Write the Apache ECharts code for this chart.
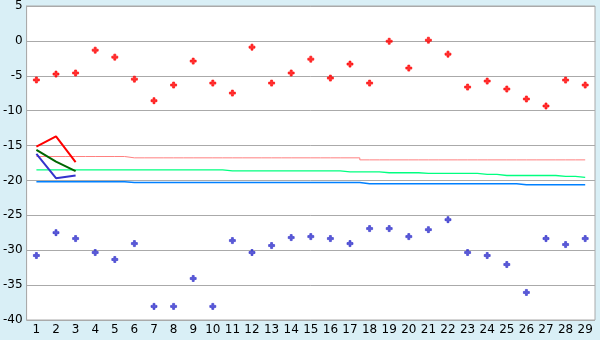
<!DOCTYPE html>
<html>
<head>
<meta charset="utf-8">
<script src="https://cdn.jsdelivr.net/npm/echarts@6/dist/echarts.min.js"></script>
<style>
html,body{margin:0;padding:0;background:#d9eff6;}
#c{width:600px;height:340px;}
</style>
</head>
<body>
<div id="c"></div>
<script>
var categories = ['1','2','3','4','5','6','7','8','9','10','11','12','13','14','15','16','17','18','19','20','21','22','23','24','25','26','27','28','29'];
var yTicks = {min: -40, max: 5, interval: 5};

var redPoints = [-5.6,-4.76,-4.6,-1.33,-2.33,-5.48,-8.57,-6.33,-2.9,-6.05,-7.48,-0.9,-6.05,-4.6,-2.62,-5.33,-3.33,-6.05,-0.05,-3.9,0.1,-1.9,-6.62,-5.76,-6.9,-8.33,-9.33,-5.62,-6.33];
var bluePoints = [-30.76,-27.48,-28.33,-30.33,-31.33,-29.05,-38.05,-38.05,-34.05,-38.05,-28.62,-30.33,-29.33,-28.19,-28.05,-28.33,-29.05,-26.9,-26.9,-28.05,-27.05,-25.62,-30.33,-30.76,-32.05,-36.05,-28.33,-29.19,-28.33];

var redLine = [-15.14,-13.67,-17.38];
var greenLine = [-15.62,-17.3,-18.67];
var blueLine = [-16.19,-19.67,-19.29];

var pinkStep = [-16.57,-16.57,-16.57,-16.57,-16.57,-16.76,-16.76,-16.76,-16.76,-16.76,-16.76,-16.76,-16.76,-16.76,-16.76,-16.76,-16.76,-17.05,-17.05,-17.05,-17.05,-17.05,-17.05,-17.05,-17.05,-17.05,-17.05,-17.05,-17.05];
var greenStep = [-18.48,-18.48,-18.48,-18.48,-18.48,-18.48,-18.48,-18.48,-18.48,-18.48,-18.62,-18.62,-18.62,-18.62,-18.62,-18.62,-18.76,-18.76,-18.9,-18.9,-19.0,-19.0,-19.0,-19.14,-19.29,-19.29,-19.29,-19.43,-19.57];
var blueStep = [-20.17,-20.17,-20.17,-20.17,-20.17,-20.3,-20.3,-20.3,-20.3,-20.3,-20.3,-20.3,-20.3,-20.3,-20.3,-20.3,-20.3,-20.47,-20.47,-20.47,-20.47,-20.47,-20.47,-20.47,-20.47,-20.62,-20.62,-20.62,-20.62];

var plus = 'path://M2,0H4V2H6V4H4V6H2V4H0V2H2Z';
var font = 'DejaVu Sans';

var chart = echarts.init(document.getElementById('c'), null, {renderer: 'canvas'});
chart.setOption({
  animation: false,
  backgroundColor: '#d9eff6',
  grid: {left: 26, right: 5, top: 5, bottom: 20, show: true, backgroundColor: '#ffffff', borderColor: '#aaaaaa', borderWidth: 1},
  xAxis: {
    type: 'category', data: categories, boundaryGap: true,
    axisLine: {lineStyle: {color: '#aaaaaa', width: 1}},
    axisTick: {alignWithLabel: true, length: 5, lineStyle: {color: '#000000'}},
    axisLabel: {color: '#000', fontFamily: font, fontSize: 12, margin: 4, interval: 0},
    splitLine: {show: false}
  },
  yAxis: {
    type: 'value', min: yTicks.min, max: yTicks.max, interval: yTicks.interval,
    axisLine: {show: true, lineStyle: {color: '#aaaaaa'}},
    axisTick: {show: false},
    axisLabel: {color: '#000', fontFamily: font, fontSize: 12, margin: 4},
    splitLine: {lineStyle: {color: '#aaaaaa', width: 1}}
  },
  series: [
    {type: 'line', data: pinkStep, step: 'middle', symbol: 'none', lineStyle: {color: '#ff8080', width: 1}, z: 2},
    {type: 'line', data: greenStep, step: 'middle', symbol: 'none', lineStyle: {color: '#00ff80', width: 1.3}, z: 2},
    {type: 'line', data: blueStep, step: 'middle', symbol: 'none', lineStyle: {color: '#0080ff', width: 1.5}, z: 2},
    {type: 'line', data: redLine, symbol: 'none', lineStyle: {color: '#ff0000', width: 2}, z: 3},
    {type: 'line', data: greenLine, symbol: 'none', lineStyle: {color: '#006600', width: 2}, z: 3},
    {type: 'line', data: blueLine, symbol: 'none', lineStyle: {color: '#3333cc', width: 2}, z: 3},
    {type: 'scatter', data: redPoints, symbol: plus, symbolSize: 6, itemStyle: {color: '#ff0000', borderColor: '#ff0000', borderWidth: 0.8}, z: 4},
    {type: 'scatter', data: bluePoints, symbol: plus, symbolSize: 6, itemStyle: {color: '#3333cc', borderColor: '#3333cc', borderWidth: 0.8}, z: 4}
  ]
});
</script>
</body>
</html>
